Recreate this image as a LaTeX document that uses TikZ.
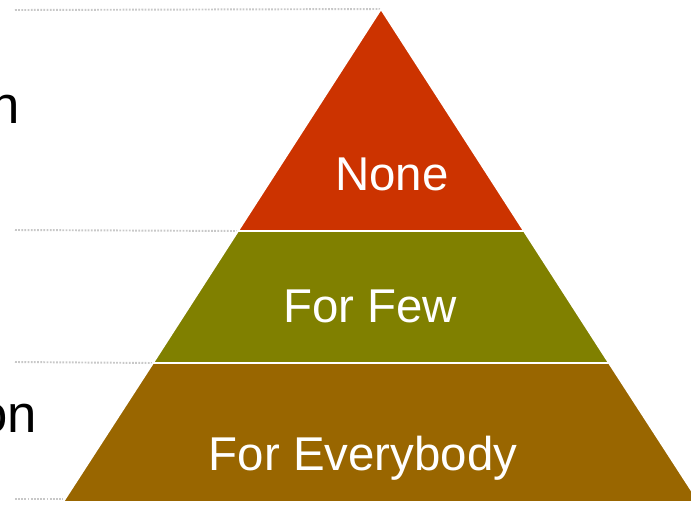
\documentclass[tikz,border=0pt]{standalone}
\usepackage{fontspec}
\setmainfont{Liberation Sans}
\usetikzlibrary{positioning}
\definecolor{tierred}{HTML}{CC3300}
\definecolor{tierolive}{HTML}{808000}
\definecolor{tierbrown}{HTML}{996600}
\definecolor{guidegray}{HTML}{C8C8C8}

\begin{document}
\begin{tikzpicture}[
  x=0.02cm, y=-0.02cm,
  tier/.style={fill=#1, draw=white, line width=1pt, line join=miter},
  guide/.style={draw=guidegray, line width=1.1pt, dash pattern=on 1pt off 0.8pt},
  tierlabel/.style={font=\fontsize{27}{30}\selectfont, text=white, anchor=base, inner sep=0pt},
  sidelabel/.style={font=\fontsize{30}{33}\selectfont, anchor=base east, inner sep=0pt}
]
  \useasboundingbox (0,0) rectangle (691,505);
  \clip (0,0) rectangle (691,505);

  % Pyramid corners
  \coordinate (apex) at (381,9);
  \coordinate (l1) at (238,231);
  \coordinate (r1) at (524,231);
  \coordinate (l2) at (153,363);
  \coordinate (r2) at (609,363);
  \coordinate (l3) at (63,502);
  \coordinate (r3) at (699,502);

  % Guide lines
  \coordinate (g0) at (15,10);
  \coordinate (g1) at (15,230);
  \coordinate (g2) at (15,362);
  \coordinate (g3) at (15,499);
  \coordinate (e3) at (63,499);
  \draw[guide] (g0) -- (apex);
  \draw[guide] (g1) -- (l1);
  \draw[guide] (g2) -- (l2);
  \draw[guide] (g3) -- (e3);

  % Tiers
  \draw[tier=tierbrown] (l2) -- (r2) -- (r3) -- (l3) -- cycle;
  \draw[tier=tierolive] (l1) -- (r1) -- (r2) -- (l2) -- cycle;
  \draw[tier=tierred] (apex) -- (r1) -- (l1) -- cycle;

  % Tier labels
  \node[tierlabel] (none) at (392,190) {None};
  \node[tierlabel] (few) at (370,322) {For Few};
  \node[tierlabel] (everybody) at (363,470) {For Everybody};

  % Side labels
  \node[sidelabel] (sidetop) at (20,123) {n};
  \node[sidelabel] (sidebottom) at (37,432) {on};
\end{tikzpicture}
\end{document}
